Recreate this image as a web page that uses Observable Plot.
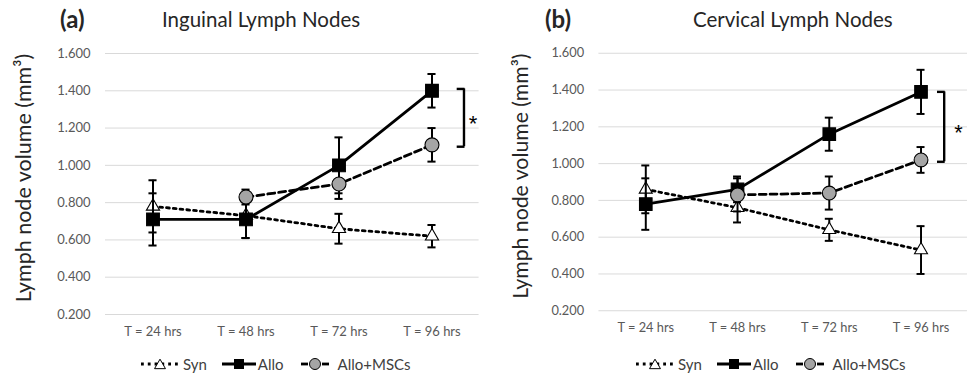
<!DOCTYPE html>
<html>
<head>
<meta charset="utf-8">
<script src="https://cdn.jsdelivr.net/npm/d3@7"></script>
<script src="https://cdn.jsdelivr.net/npm/@observablehq/plot@0.6"></script>
<style>
  body { margin: 0; background: #fff; font-family: Lato, "Open Sans", sans-serif; }
  #wrap { position: relative; width: 967px; height: 376px; overflow: hidden; }
  .panel { position: absolute; top: 0; height: 376px; overflow: hidden; }
  .tag { position: absolute; top: 5px; font-size: 24px; font-weight: bold; color: #262626; line-height: 28px; }
  .title { position: absolute; top: 7px; font-size: 20.5px; color: #262626; line-height: 24px; }
  .plot { position: absolute; top: 36px; left: 0; }
  .legend { position: absolute; top: 354px; display: flex; align-items: center; font-size: 15px; color: #404040; line-height: 20px; white-space: nowrap; }
  .legend .item { display: flex; align-items: center; }
  .legend svg { margin-right: 2px; }
</style>
</head>
<body>
<div id="wrap">
  <div class="panel" id="pa" style="left:0;width:483px;">
    <div class="tag" style="left:60px;">(a)</div>
    <div class="title" style="left:162px;">Inguinal Lymph Nodes</div>
    <div class="plot"></div>
    <div class="legend" style="left:140px;"></div>
  </div>
  <div class="panel" id="pb" style="left:483px;width:484px;">
    <div class="tag" style="left:62px;">(b)</div>
    <div class="title" style="left:210px;">Cervical Lymph Nodes</div>
    <div class="plot"></div>
    <div class="legend" style="left:152px;"></div>
  </div>
</div>
<script>
// ---- shared categories / ticks ----
const times = ["T = 24 hrs", "T = 48 hrs", "T = 72 hrs", "T = 96 hrs"];
const seriesNames = ["Syn", "Allo", "Allo+MSCs"];
const yTicks = [0.2, 0.4, 0.6, 0.8, 1.0, 1.2, 1.4, 1.6];
const yLabel = "Lymph node volume (mm³)";

// ---- (a) Inguinal Lymph Nodes ----
const inguinalSyn = [0.78, 0.73, 0.66, 0.62];
const inguinalSynErr = [0.14, 0.12, 0.08, 0.06];
const inguinalAllo = [0.71, 0.71, 1.00, 1.40];
const inguinalAlloErr = [0.14, 0.10, 0.15, 0.09];
const inguinalMsc = [null, 0.83, 0.90, 1.11];
const inguinalMscErr = [null, 0.04, 0.08, 0.09];
const inguinalSig = [1.41, 1.10];

// ---- (b) Cervical Lymph Nodes ----
const cervicalSyn = [0.86, 0.76, 0.64, 0.53];
const cervicalSynErr = [0.13, 0.08, 0.06, 0.13];
const cervicalAllo = [0.78, 0.86, 1.16, 1.39];
const cervicalAlloErr = [0.14, 0.07, 0.09, 0.12];
const cervicalMsc = [null, 0.83, 0.84, 1.02];
const cervicalMscErr = [null, 0.09, 0.09, 0.07];
const cervicalSig = [1.39, 1.01];

const styles = {
  "Syn": {dash: "2.8 4", symbol: "triangle", r: 4.9, fill: "white", sw: 40, mr: 3, gap: 14},
  "Allo": {dash: null, symbol: "square", r: 7.2, fill: "black", sw: 36, mr: 1, gap: 16},
  "Allo+MSCs": {dash: "7 4", symbol: "circle", r: 7, fill: "#a5a5a5", sw: 30, mr: 8, gap: 0}
};

// fit the rotated y title to the reference length
function fitFont(text, target, family) {
  const c = document.createElement("canvas").getContext("2d");
  c.font = `100px ${family}`;
  return 100 * target / c.measureText(text).width;
}

function rowsOf(name, vals, errs) {
  return times.map((t, i) => ({t, s: name, v: vals[i], e: errs[i]})).filter(d => d.v != null);
}

function makePanel(sel, cfg) {
  const plotW = 4 * 93.4;
  const width = cfg.marginLeft + plotW + cfg.marginRight;
  const bw = plotW / 4;
  const capW = 8.5;
  const capInset = (bw - capW) / 2;
  const groups = [
    rowsOf("Syn", cfg.syn, cfg.synErr),
    rowsOf("Allo", cfg.allo, cfg.alloErr),
    rowsOf("Allo+MSCs", cfg.msc, cfg.mscErr)
  ];
  const marks = [
    Plot.ruleY(yTicks, {stroke: "#d9d9d9", strokeWidth: 1})
  ];
  for (const rows of groups) {
    const st = styles[rows[0].s];
    marks.push(Plot.line(rows, {x: "t", y: "v", stroke: "black", strokeWidth: 2.8, strokeDasharray: st.dash}));
  }
  for (const rows of groups) {
    const st = styles[rows[0].s];
    marks.push(Plot.ruleX(rows, {x: "t", y1: d => d.v - d.e, y2: d => d.v + d.e, stroke: "black", strokeWidth: 2}));
    marks.push(Plot.tickY(rows, {x: "t", y: d => d.v + d.e, insetLeft: capInset, insetRight: capInset, stroke: "black", strokeWidth: 2}));
    marks.push(Plot.tickY(rows, {x: "t", y: d => d.v - d.e, insetLeft: capInset, insetRight: capInset, stroke: "black", strokeWidth: 2}));
    marks.push(Plot.dot(rows, {x: "t", y: "v", symbol: st.symbol, r: st.r, fill: st.fill, stroke: "black", strokeWidth: 1.1}));
  }
  // significance bracket
  const last = times[times.length - 1];
  const bx = cfg.bracketDx, bwid = 7;
  marks.push(Plot.ruleX([last], {x: d => d, y1: cfg.sig[0], y2: cfg.sig[1], dx: bx, stroke: "black", strokeWidth: 2.4}));
  marks.push(Plot.tickY(cfg.sig, {x: () => last, y: d => d, insetLeft: bw / 2 + bx - bwid, insetRight: bw / 2 - bx - 1.2, stroke: "black", strokeWidth: 2.4}));
  marks.push(Plot.text(["*"], {x: () => last, y: () => (cfg.sig[0] + cfg.sig[1]) / 2, text: d => d, dx: cfg.starDx, dy: cfg.starDy, fontSize: 22, fill: "#000", fontFamily: "'Liberation Sans', sans-serif"}));
  // y-axis title
  const fam = "Lato, 'Open Sans', sans-serif";
  marks.push(Plot.text([yLabel], {text: d => d, frameAnchor: "left", textAnchor: "middle", rotate: -90, dx: cfg.labelDx, dy: -6,
    fontSize: fitFont(yLabel, 249, "Lato"), fill: "#262626", fontFamily: fam}));

  const chart = Plot.plot({
    width,
    height: 308,
    marginTop: 17,
    marginBottom: 30,
    marginLeft: cfg.marginLeft,
    marginRight: cfg.marginRight,
    style: {fontFamily: fam, fontSize: "13px", color: "#595959", background: "transparent", overflow: "visible"},
    x: {type: "band", domain: times, padding: 0, label: null, tickSize: 0, tickPadding: 12},
    y: {domain: [0.2, 1.6], ticks: yTicks, tickFormat: d3.format(".3f"), label: null, tickSize: 0, tickPadding: 15},
    marks
  });
  document.querySelector(sel + " .plot").appendChild(chart);

  // legend
  const leg = document.querySelector(sel + " .legend");
  for (const name of seriesNames) {
    const st = styles[name];
    const item = document.createElement("div");
    item.className = "item";
    item.style.marginRight = st.gap + "px";
    const sw = st.sw;
    const sym = st.symbol === "triangle"
      ? `<path d="${d3.symbol(d3.symbolTriangle, 52)()}" transform="translate(${sw/2},9.5)" fill="white" stroke="black" stroke-width="1"/>`
      : st.symbol === "square"
      ? `<rect x="${sw/2-5}" y="3" width="10" height="10" fill="black"/>`
      : `<circle cx="${sw/2}" cy="8" r="5.5" fill="#a5a5a5" stroke="black" stroke-width="1"/>`;
    const line = st.symbol === "circle"
      ? `<line x1="1" x2="8" y1="8" y2="8" stroke="black" stroke-width="2.8"/><line x1="${sw-8}" x2="${sw-1}" y1="8" y2="8" stroke="black" stroke-width="2.8"/>`
      : `<line x1="1" x2="${sw-1}" y1="8" y2="8" stroke="black" stroke-width="2.8" ${st.dash ? `stroke-dasharray="${st.dash}"` : ""}/>`;
    item.innerHTML = `<svg width="${sw}" height="16" style="margin-right:${st.mr}px">${line}${sym}</svg><span>${name}</span>`;
    leg.appendChild(item);
  }
}

makePanel("#pa", {
  syn: inguinalSyn, synErr: inguinalSynErr,
  allo: inguinalAllo, alloErr: inguinalAlloErr,
  msc: inguinalMsc, mscErr: inguinalMscErr,
  sig: inguinalSig,
  marginLeft: 105, marginRight: 4,
  bracketDx: 32, starDx: 41, starDy: 6, labelDx: -81
});
makePanel("#pb", {
  syn: cervicalSyn, synErr: cervicalSynErr,
  allo: cervicalAllo, alloErr: cervicalAlloErr,
  msc: cervicalMsc, mscErr: cervicalMscErr,
  sig: cervicalSig,
  marginLeft: 117, marginRight: 0,
  bracketDx: 23.5, starDx: 38, starDy: 6, labelDx: -79
});
</script>
</body>
</html>
